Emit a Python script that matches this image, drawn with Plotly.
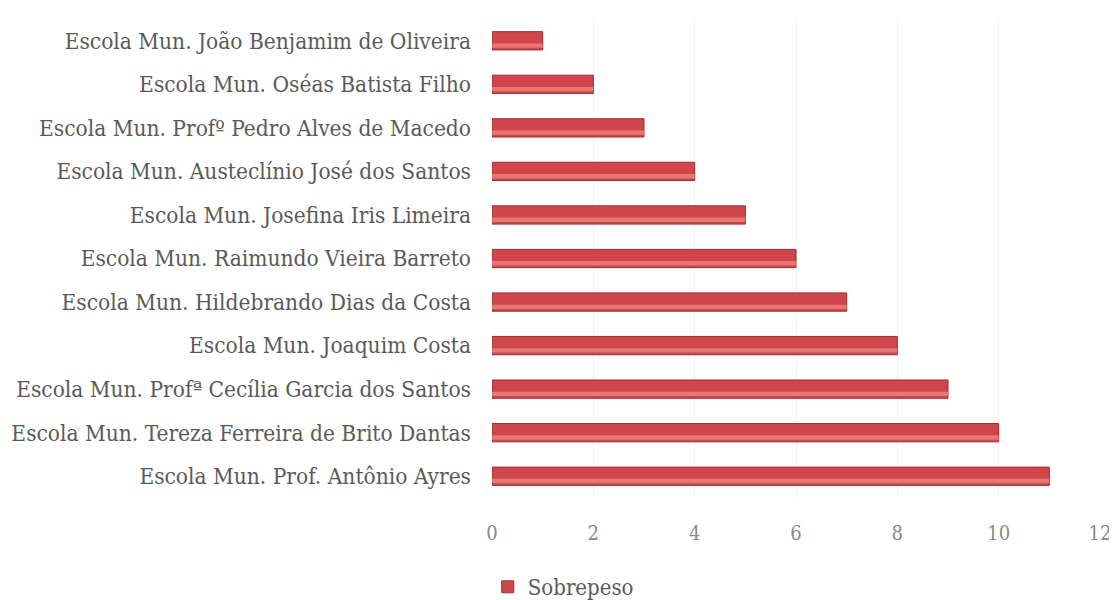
import plotly.graph_objects as go

escolas = [
    "Escola Mun. João Benjamim de Oliveira",
    "Escola Mun. Oséas Batista Filho",
    "Escola Mun. Profº Pedro Alves de Macedo",
    "Escola Mun. Austeclínio José dos Santos",
    "Escola Mun. Josefina Iris Limeira",
    "Escola Mun. Raimundo Vieira Barreto",
    "Escola Mun. Hildebrando Dias da Costa",
    "Escola Mun. Joaquim Costa",
    "Escola Mun. Profª Cecília Garcia dos Santos",
    "Escola Mun. Tereza Ferreira de Brito Dantas",
    "Escola Mun. Prof. Antônio Ayres",
]
sobrepeso = [1, 2, 3, 4, 5, 6, 7, 8, 9, 10, 11]
x_ticks = [0, 2, 4, 6, 8, 10, 12]

fnt = "DejaVu Serif Condensed, DejaVu Serif"

fig = go.Figure()
fig.add_trace(go.Bar(
    x=sobrepeso, y=escolas, orientation="h", name="Sobrepeso",
    width=0.42, marker=dict(color="#d0464c", line=dict(color="#9a2e35", width=1)),
))
# lighter strip in the upper half to mimic the glossy bars
fig.add_trace(go.Bar(
    x=sobrepeso, y=escolas, orientation="h", showlegend=False, hoverinfo="skip",
    width=0.1, offset=-0.16,
    marker=dict(color="rgba(240,140,130,0.7)", line=dict(width=0)),
))

# page body adds an 8px margin, so everything is shifted 8px left/up here
fig.update_layout(
    width=1117, height=600,
    margin=dict(l=484, r=25, t=11, b=110),
    paper_bgcolor="white", plot_bgcolor="white",
    barmode="overlay",
    font=dict(family=fnt, size=22, color="#5a5a5a"),
    xaxis=dict(range=[0, 12], tickvals=x_ticks, showgrid=True, automargin=False,
               gridcolor="#f2f2f2", zeroline=False, ticks="", ticklabelstandoff=21,
               tickfont=dict(size=20, color="#8a8a8a")),
    yaxis=dict(categoryorder="array", categoryarray=escolas[::-1], automargin=False,
               showgrid=False, ticks="", ticklabelstandoff=20,
               tickfont=dict(size=22.5, color="#5a5a5a")),
    legend=dict(orientation="h", x=-0.007, xanchor="left",
                yref="container", y=0.035, yanchor="middle",
                font=dict(size=22, color="#5a5a5a")),
)

fig.write_html("out.html")
